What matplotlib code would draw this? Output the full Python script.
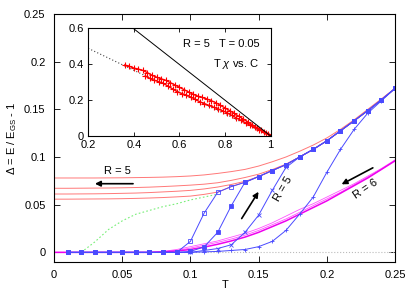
import matplotlib
matplotlib.use('Agg')
import matplotlib.pyplot as plt
from matplotlib.ticker import FormatStrFormatter

plt.rcParams['font.family'] = ['Liberation Sans', 'DejaVu Sans']
plt.rcParams['mathtext.fontset'] = 'custom'
plt.rcParams['mathtext.rm'] = 'Liberation Sans'
plt.rcParams['mathtext.it'] = 'Liberation Sans:italic'
plt.rcParams['font.size'] = 8

# Main panel data
T = [0.00, 0.01, 0.02, 0.03, 0.04, 0.05, 0.06, 0.07, 0.08, 0.09, 0.10, 0.11, 0.12,
     0.13, 0.14, 0.15, 0.16, 0.17, 0.18, 0.19, 0.20, 0.21, 0.22, 0.23, 0.24, 0.25]

# red lines (cooling, R = 5)
red1 = [0.078, 0.078, 0.078, 0.078, 0.0781, 0.0782, 0.0784, 0.0786, 0.0789, 0.0794, 0.0801, 0.0812, 0.0828,
        0.0847, 0.0870, 0.0905, 0.0950, 0.1000, 0.1060, 0.1125, 0.1200, 0.1290, 0.1390, 0.1500, 0.1610, 0.172]
red2 = [0.0672, 0.0672, 0.0673, 0.0674, 0.0675, 0.0677, 0.0680, 0.0684, 0.0690, 0.0697, 0.0705, 0.0715, 0.0730,
        0.0755, 0.0785, 0.0820, 0.0868, 0.0925, 0.1000, 0.1080, 0.1170, 0.1275, 0.1380, 0.1487, 0.1600, 0.172]
red3 = [0.0612, 0.0612, 0.0613, 0.0614, 0.0616, 0.0619, 0.0622, 0.0627, 0.0634, 0.0641, 0.0650, 0.0665, 0.0685,
        0.0712, 0.0745, 0.0795, 0.0858, 0.0920, 0.1000, 0.1080, 0.1170, 0.1275, 0.1380, 0.1487, 0.1600, 0.172]
red4 = [0.0558, 0.0558, 0.0559, 0.0560, 0.0561, 0.0563, 0.0566, 0.0570, 0.0575, 0.0582, 0.0590, 0.0608, 0.0632,
        0.0690, 0.0735, 0.0795, 0.0858, 0.0920, 0.1000, 0.1080, 0.1170, 0.1275, 0.1380, 0.1487, 0.1600, 0.172]

# blue lines (heating, R = 5), starting at T = 0.01
blue_open_sq = [0, 0, 0, 0, 0, 0, 0, 0, 0, 0.0115, 0.041, 0.063,
                0.069, 0.0735, 0.0795, 0.0858, 0.092, 0.100, 0.108, 0.117, 0.1275, 0.138, 0.1487, 0.160, 0.172]
blue_fill_sq = [0, 0, 0, 0, 0, 0, 0, 0, 0, 0.001, 0.0057, 0.021,
                0.049, 0.0735, 0.0795, 0.0858, 0.092, 0.100, 0.108, 0.117, 0.1275, 0.138, 0.1487, 0.160, 0.172]
blue_cross = [0, 0, 0, 0, 0, 0, 0, 0, 0, 0, 0.002, 0.004,
              0.008, 0.021, 0.039, 0.065, 0.089, 0.100, 0.108, 0.117, 0.1275, 0.138, 0.1487, 0.160, 0.172]
blue_plus = [0, 0, 0, 0, 0, 0, 0, 0, 0, 0, 0.0005, 0.001,
             0.002, 0.003, 0.006, 0.0115, 0.023, 0.040, 0.058, 0.084, 0.108, 0.129, 0.146, 0.159, 0.172]

# magenta lines (R = 6)
mag1 = [0, 0, 0, 0, 0, 0, 0, 0, 0.001, 0.003, 0.006, 0.009, 0.012,
        0.016, 0.020, 0.025, 0.031, 0.038, 0.045, 0.051, 0.058, 0.065, 0.072, 0.080, 0.088, 0.097]
mag2 = [0, 0, 0, 0, 0, 0, 0, 0, 0.0008, 0.002, 0.0045, 0.0075, 0.0105,
        0.014, 0.018, 0.023, 0.029, 0.035, 0.042, 0.049, 0.056, 0.063, 0.071, 0.079, 0.087, 0.0965]
mag3 = [0, 0, 0, 0, 0, 0, 0, 0, 0.0005, 0.0015, 0.003, 0.0055, 0.0085,
        0.012, 0.016, 0.021, 0.027, 0.033, 0.040, 0.047, 0.054, 0.062, 0.070, 0.078, 0.087, 0.096]

# green dashed line
T_green = [0.02, 0.03, 0.04, 0.05, 0.06, 0.07, 0.08, 0.09, 0.10, 0.11, 0.12]
green = [0.0, 0.011, 0.024, 0.033, 0.040, 0.044, 0.048, 0.051, 0.055, 0.058, 0.061]

# Inset data: T chi vs. C
C_up = [0.36, 0.38, 0.40, 0.42, 0.44, 0.46, 0.48, 0.50, 0.52, 0.54, 0.56, 0.58, 0.60, 0.62, 0.64, 0.66,
        0.68, 0.70, 0.72, 0.74, 0.76, 0.78, 0.80, 0.82, 0.84, 0.86, 0.88, 0.90, 0.92, 0.94, 0.96, 0.98, 1.00]
chi_up = [0.395, 0.388, 0.378, 0.372, 0.365, 0.352, 0.338, 0.327, 0.318, 0.310, 0.297, 0.284, 0.271, 0.258,
          0.245, 0.232, 0.222, 0.214, 0.206, 0.196, 0.185, 0.170, 0.156, 0.141, 0.126, 0.110, 0.094, 0.078,
          0.062, 0.046, 0.031, 0.015, 0.000]
C_lo = [0.45, 0.47, 0.49, 0.51, 0.53, 0.55, 0.57, 0.59, 0.61, 0.63, 0.65, 0.67, 0.69, 0.71, 0.73,
        0.75, 0.77, 0.79, 0.81, 0.83, 0.85, 0.87, 0.89, 0.91, 0.93, 0.95, 0.97, 0.99]
chi_lo = [0.334, 0.320, 0.310, 0.302, 0.292, 0.278, 0.262, 0.246, 0.236, 0.228, 0.217, 0.203, 0.190, 0.180,
          0.170, 0.160, 0.150, 0.140, 0.128, 0.114, 0.100, 0.086, 0.073, 0.060, 0.047, 0.035, 0.022, 0.009]
C_fit = [0.2, 1.0]
chi_fit = [0.488, 0.0]
C_bound = [0.397, 1.0]
chi_bound = [0.6, 0.0]

fig = plt.figure(figsize=(4.15, 2.91), dpi=100)
ax = fig.add_axes([0.130, 0.100, 0.822, 0.852])

blue = '#4a4aff'
ax.plot([0, 0.25], [0, 0], color='#bbbbbb', lw=0.8, ls=':')
for r in [red1, red2, red3, red4]:
    ax.plot(T, r, color='#ff7878', lw=0.7)
ax.plot(T_green, green, color='#77ee77', lw=0.8, ls=(0, (1.5, 2)))
ax.plot(T, mag1, color='#ff55ff', lw=0.6)
ax.plot(T, mag2, color='#ff55ff', lw=0.6)
ax.plot(T, mag3, color='#ee00ee', lw=1.1)
ax.plot(T[1:], blue_plus, color=blue, lw=0.7, marker='+', ms=3, mew=0.6)
ax.plot(T[1:], blue_cross, color=blue, lw=0.7, marker='x', ms=3, mew=0.6)
ax.plot(T[1:], blue_open_sq, color=blue, lw=0.7, marker='s', ms=3.5, mfc='none', mew=0.6)
ax.plot(T[1:], blue_fill_sq, color=blue, lw=0.7, marker='s', ms=2.5, mew=0.6)

ax.set_xlim(0, 0.25)
ax.set_ylim(-0.01, 0.25)
ax.set_xticks([0, 0.05, 0.1, 0.15, 0.2, 0.25])
ax.set_yticks([0, 0.05, 0.1, 0.15, 0.2, 0.25])
ax.xaxis.set_major_formatter(FormatStrFormatter('%g'))
ax.yaxis.set_major_formatter(FormatStrFormatter('%g'))
ax.tick_params(direction='in', top=True, right=True, length=4, width=0.6, labelsize=8)
ax.tick_params(axis='x', pad=6)
ax.tick_params(axis='y', pad=6)
for s in ax.spines.values():
    s.set_linewidth(0.8)
fig.text(0.542, 0.022, 'T', ha='center', va='center', fontsize=8)
ax.set_ylabel(r'$\Delta$ = E / E$_{\rm GS}$ - 1', fontsize=8, labelpad=4)

# annotations
ax.annotate('', xy=(0.028, 0.072), xytext=(0.060, 0.072),
            arrowprops=dict(arrowstyle='-|>', color='black', lw=1.2, mutation_scale=8))
ax.text(0.0465, 0.0855, 'R = 5', ha='center', va='center', fontsize=8)
ax.annotate('', xy=(0.151, 0.066), xytext=(0.1365, 0.033),
            arrowprops=dict(arrowstyle='-|>', color='black', lw=1.2, mutation_scale=8))
ax.text(0.168, 0.067, 'R = 5', ha='center', va='center', fontsize=8, rotation=60)
ax.annotate('', xy=(0.209, 0.070), xytext=(0.2355, 0.090),
            arrowprops=dict(arrowstyle='-|>', color='black', lw=1.2, mutation_scale=8))
ax.text(0.2285, 0.0665, 'R = 6', ha='center', va='center', fontsize=8, rotation=34)

# inset
ins = fig.add_axes([0.2125, 0.533, 0.4395, 0.370])
ins.plot(C_fit, chi_fit, color='#444444', lw=0.8, ls=(0, (1, 2)))
ins.plot(C_up, chi_up, color='red', lw=1.0, marker='+', ms=5, mew=0.8)
ins.plot(C_lo, chi_lo, color='red', lw=1.0, marker='+', ms=5, mew=0.8)
ins.plot(C_bound, chi_bound, color='black', lw=0.7)
ins.set_xlim(0.2, 1)
ins.set_ylim(0, 0.6)
ins.set_xticks([0.2, 0.4, 0.6, 0.8, 1])
ins.set_yticks([0, 0.2, 0.4, 0.6])
ins.xaxis.set_major_formatter(FormatStrFormatter('%g'))
ins.yaxis.set_major_formatter(FormatStrFormatter('%g'))
ins.tick_params(direction='in', top=True, right=True, length=3, width=0.6, labelsize=8, pad=3)
for s in ins.spines.values():
    s.set_linewidth(0.8)
ins.text(0.95, 0.51, 'R = 5   T = 0.05', ha='right', va='center', fontsize=8)
ins.text(0.95, 0.40, r'T $\chi$ vs. C', ha='right', va='center', fontsize=8)

fig.savefig('out.png', dpi=100)
